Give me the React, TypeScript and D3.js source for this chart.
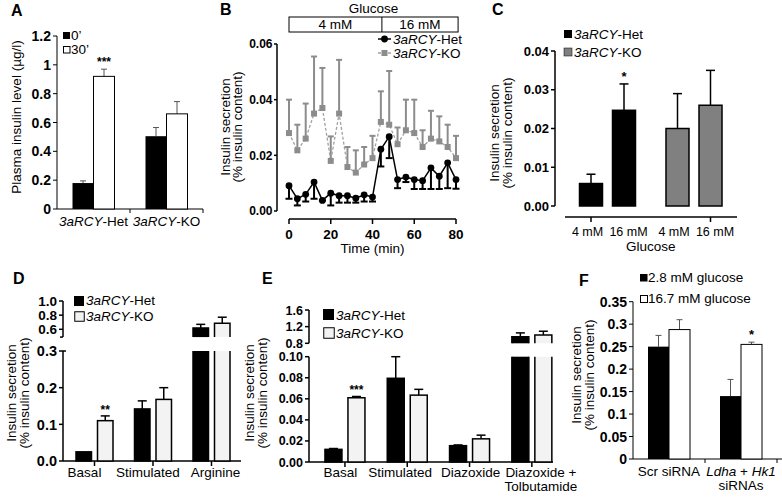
import React from 'react';
import * as d3 from 'd3';

const FONT = '"Liberation Sans", Arial, Helvetica, sans-serif';
const FS = 13.5;

// ---------- Panel A ----------
const aGroups = ['Het', 'KO'];
const aBasal = [0.18, 0.505];
const aBasalErr = [0.015, 0.06];
const aPeak = [0.92, 0.66];
const aPeakErr = [0.05, 0.085];
const aTicks = [0, 0.2, 0.4, 0.6, 0.8, 1, 1.2];
const aTickLabels = ['0', '0.2', '0.4', '0.6', '0.8', '1', '1.2'];

// ---------- Panel B ----------
const bTime = [0, 4, 8, 12, 16, 20, 24, 28, 32, 36, 40, 44, 48, 52, 56, 60, 64, 68, 72, 76, 80];
const bHet = [0.0091, 0.0044, 0.006, 0.0104, 0.0038, 0.0064, 0.0055, 0.0055, 0.0046, 0.0058, 0.005, 0.0222, 0.0267, 0.0113, 0.0122, 0.0113, 0.0109, 0.0155, 0.0125, 0.0173, 0.0113];
const bHetErr = [0.0047, 0.0024, 0.0026, 0.006, 0, 0.0044, 0.0025, 0.0025, 0.0016, 0.0024, 0.0016, 0.0062, 0.0077, 0.0031, 0.0018, 0.0034, 0.003, 0.0076, 0.0046, 0.0091, 0.0033];
const bKO = [0.028, 0.0218, 0.026, 0.035, 0.037, 0.018, 0.035, 0.0158, 0.0138, 0.0167, 0.019, 0.032, 0.031, 0.024, 0.029, 0.028, 0.023, 0.026, 0.025, 0.023, 0.019];
const bKOErr = [0.012, 0.0092, 0.0126, 0.0205, 0.0144, 0.0088, 0.0193, 0.0072, 0.008, 0.0063, 0.008, 0.011, 0.0193, 0.006, 0.011, 0.012, 0.006, 0.01, 0.009, 0.008, 0.008];
const bYTicks = [0, 0.02, 0.04, 0.06];
const bYTickLabels = ['0.00', '0.02', '0.04', '0.06'];
const bXTicks = [0, 20, 40, 60, 80];
const bSwitch = 44.5;
const bEnd = 81;

// ---------- Panel C ----------
const cGenotypes = ['Het', 'KO'];
const cGlucose = ['4 mM', '16 mM'];
const cHet = [0.0058, 0.0247];
const cHetErr = [0.0024, 0.0068];
const cKO = [0.02, 0.026];
const cKOErr = [0.009, 0.009];
const cTicks = [0, 0.01, 0.02, 0.03, 0.04];
const cTickLabels = ['0.00', '0.01', '0.02', '0.03', '0.04'];

// ---------- Panel D ----------
const dCategories = ['Basal', 'Stimulated', 'Arginine'];
const dHet = [0.025, 0.142, 0.62];
const dHetErr = [0, 0.022, 0.05];
const dKO = [0.11, 0.168, 0.686];
const dKOErr = [0.013, 0.032, 0.085];
const dLowTicks = [0, 0.1, 0.2, 0.3];
const dLowLabels = ['0.0', '0.1', '0.2', '0.3'];
const dUpTicks = [0.6, 0.8, 1.0];
const dUpLabels = ['0.6', '0.8', '1.0'];
const dUpMin = 0.49;

// ---------- Panel E ----------
const eCategories = ['Basal', 'Stimulated', 'Diazoxide', 'Diazoxide + Tolbutamide'];
const eHet = [0.012, 0.0795, 0.0155, 0.96];
const eHetErr = [0.0008, 0.0205, 0.0007, 0.09];
const eKO = [0.061, 0.0635, 0.022, 1.0];
const eKOErr = [0.0012, 0.0055, 0.0035, 0.09];
const eLowTicks = [0, 0.02, 0.04, 0.06, 0.08, 0.1];
const eLowLabels = ['0.00', '0.02', '0.04', '0.06', '0.08', '0.10'];
const eUpTicks = [0.8, 1.2, 1.6];
const eUpLabels = ['0.8', '1.2', '1.6'];

// ---------- Panel F ----------
const fCategories = ['Scr', 'Ldha'];
const fLow = [0.25, 0.14];
const fLowErr = [0.025, 0.037];
const fHigh = [0.288, 0.255];
const fHighErr = [0.022, 0.005];
const fTicks = [0, 0.05, 0.1, 0.15, 0.2, 0.25, 0.3, 0.35];
const fTickLabels = ['0', '0.05', '0.1', '0.15', '0.2', '0.25', '0.3', '0.35'];

const KO_FILL = '#f3f3f3';

function Geno({ name }: { name: string }) {
  return (
    <>
      <tspan fontStyle="italic">3aRCY</tspan>
      <tspan>-{name}</tspan>
    </>
  );
}

function YTitle({ x, y, lines, gap = 13 }: { x: number; y: number; lines: string[]; gap?: number }) {
  return (
    <text transform={`translate(${x},${y}) rotate(-90)`} textAnchor="middle" fontSize={FS}>
      {lines.map((l, i) => (
        <tspan key={i} x={0} dy={i === 0 ? 0 : gap}>
          {l}
        </tspan>
      ))}
    </text>
  );
}

function Err({ x, y1, y2, cap = 7, stroke = '#000', sw = 1.5 }: any) {
  return (
    <g stroke={stroke} strokeWidth={sw}>
      <line x1={x} x2={x} y1={y1} y2={y2} />
      <line x1={x - cap / 2} x2={x + cap / 2} y1={y2} y2={y2} />
    </g>
  );
}

function YTicks({ x, scale, ticks, labels, sw = 1.5, len = 4, fs = FS, gap = 3 }: any) {
  return (
    <g>
      {ticks.map((t: number, i: number) => (
        <g key={i}>
          <line x1={x - len} x2={x} y1={scale(t)} y2={scale(t)} stroke="#000" strokeWidth={sw} />
          <text x={x - len - gap} y={scale(t)} dy="0.36em" textAnchor="end" fontSize={fs} fontWeight="bold">
            {labels[i]}
          </text>
        </g>
      ))}
    </g>
  );
}

function PanelA() {
  const y = d3.scaleLinear().domain([0, 1.2]).range([209, 36]);
  const x = d3.scaleBand().domain(aGroups).range([57, 203]);
  const bw = 21;
  const x0 = 57;
  return (
    <g>
      <text x={11} y={16} fontSize={16} fontWeight="bold">A</text>
      <YTitle x={21} y={117} lines={['Plasma insulin level (µg/l)']} />
      <line x1={x0} x2={x0} y1={y(1.2)} y2={y(0)} stroke="#000" />
      <YTicks x={x0} scale={y} ticks={aTicks} labels={aTickLabels} sw={1} fs={14} gap={2} />
      <line x1={x0} x2={203} y1={y(0)} y2={y(0)} stroke="#000" />
      {aGroups.map((g) => (
        <line key={g} x1={(x(g) as number) + x.bandwidth()} x2={(x(g) as number) + x.bandwidth()} y1={y(0)} y2={y(0) + 4} stroke="#000" />
      ))}
      {aGroups.map((g, i) => {
        const c = (x(g) as number) + x.bandwidth() / 2;
        return (
          <g key={g}>
            <Err x={c - bw / 2} y1={y(aBasal[i])} y2={y(aBasal[i] + aBasalErr[i])} cap={6} sw={1} stroke="#555" />
            <Err x={c + bw / 2} y1={y(aPeak[i])} y2={y(aPeak[i] + aPeakErr[i])} cap={6} sw={1} stroke="#555" />
            <rect x={c - bw} y={y(aBasal[i])} width={bw} height={y(0) - y(aBasal[i])} fill="#000" />
            <rect x={c} y={y(aPeak[i])} width={bw} height={y(0) - y(aPeak[i])} fill="#fff" stroke="#000" strokeWidth={1} />
            <text x={(x(g) as number) + x.bandwidth() / 2} y={226} textAnchor="middle" fontSize={FS}>
              <Geno name={g} />
            </text>
          </g>
        );
      })}
      <text x={(x('Het') as number) + x.bandwidth() / 2 + bw / 2} y={y(aPeak[0] + aPeakErr[0]) - 3} textAnchor="middle" fontSize={12} fontWeight="bold">***</text>
      <rect x={63} y={32} width={7} height={7} fill="#000" />
      <text x={71} y={40} fontSize={FS}>0’</text>
      <rect x={63.5} y={46.5} width={6.5} height={6.5} fill="#fff" stroke="#000" />
      <text x={71} y={54} fontSize={FS}>30’</text>
    </g>
  );
}

function PanelB() {
  const x = d3.scaleLinear().domain([0, 80]).range([289, 456]);
  const y = d3.scaleLinear().domain([0, 0.06]).range([211, 44]);
  const line = d3.line<number>().x((_, i) => x(bTime[i])).y((d) => y(d));
  const KO = '#8c8c8c';
  return (
    <g>
      <text x={220} y={15} fontSize={16} fontWeight="bold">B</text>
      <text x={(x(0) + x(bEnd)) / 2} y={13} textAnchor="middle" fontSize={FS}>Glucose</text>
      <rect x={x(0)} y={17} width={x(bEnd) - x(0)} height={15} fill="#fff" stroke="#000" />
      <line x1={x(bSwitch)} x2={x(bSwitch)} y1={17} y2={32} stroke="#000" />
      <text x={(x(0) + x(bSwitch)) / 2} y={29} textAnchor="middle" fontSize={FS}>4 mM</text>
      <text x={(x(bSwitch) + x(bEnd)) / 2} y={29} textAnchor="middle" fontSize={FS}>16 mM</text>
      <YTitle x={229.5} y={127} lines={['Insulin secretion', '(% insulin content)']} gap={12.5} />
      <line x1={277} x2={277} y1={y(0.06)} y2={y(0)} stroke="#000" strokeWidth={1.5} />
      <YTicks x={277} scale={y} ticks={bYTicks} labels={bYTickLabels} fs={12} len={3} gap={1.5} />
      <line x1={x(0)} x2={x(80)} y1={219} y2={219} stroke="#000" strokeWidth={1.5} />
      {bXTicks.map((t) => (
        <g key={t}>
          <line x1={x(t)} x2={x(t)} y1={219} y2={224} stroke="#000" strokeWidth={1.5} />
          <text x={x(t)} y={239} textAnchor="middle" fontSize={FS} fontWeight="bold">{t}</text>
        </g>
      ))}
      <text x={(x(0) + x(80)) / 2} y={253} textAnchor="middle" fontSize={FS}>Time (min)</text>
      {bKO.map((v, i) => (
        <Err key={'ke' + i} x={x(bTime[i])} y1={y(v)} y2={y(v + bKOErr[i])} cap={6} stroke={KO} sw={2} />
      ))}
      <path d={line(bKO) as string} fill="none" stroke="#a0a0a0" strokeWidth={1.3} strokeDasharray="3,2" />
      {bKO.map((v, i) => (
        <rect key={'km' + i} x={x(bTime[i]) - 3} y={y(v) - 3} width={6} height={6} fill={KO} />
      ))}
      {bHet.map((v, i) => (
        <Err key={'he' + i} x={x(bTime[i])} y1={y(v)} y2={y(v - bHetErr[i])} cap={7} stroke="#000" sw={2} />
      ))}
      <path d={line(bHet) as string} fill="none" stroke="#000" strokeWidth={1.5} />
      {bHet.map((v, i) => (
        <circle key={'hm' + i} cx={x(bTime[i])} cy={y(v)} r={3.4} fill="#000" />
      ))}
      <line x1={378} x2={391} y1={39} y2={39} stroke="#000" strokeWidth={1.5} />
      <circle cx={384.5} cy={39} r={3.4} fill="#000" />
      <text x={393} y={43.5} fontSize={FS}><Geno name="Het" /></text>
      <line x1={378} x2={391} y1={53} y2={53} stroke="#a0a0a0" strokeWidth={1.3} strokeDasharray="3,2" />
      <rect x={381.5} y={50} width={6} height={6} fill={KO} />
      <text x={393} y={57.5} fontSize={FS}><Geno name="KO" /></text>
    </g>
  );
}

function PanelC() {
  const y = d3.scaleLinear().domain([0, 0.04]).range([206, 51]);
  const gx = d3.scalePoint().domain(cGenotypes).range([607.5, 694]);
  const ix = d3.scalePoint().domain(cGlucose).range([-16.5, 16.5]);
  const labelDx = [-3.5, 4.5];
  const bw = 23;
  const series = [
    { g: 'Het', v: cHet, e: cHetErr, fill: '#000' },
    { g: 'KO', v: cKO, e: cKOErr, fill: '#808080' },
  ];
  const first = (gx('Het') as number) + (ix('4 mM') as number);
  const last = (gx('KO') as number) + (ix('16 mM') as number);
  return (
    <g>
      <text x={492} y={15} fontSize={16} fontWeight="bold">C</text>
      <YTitle x={499} y={133} lines={['Insulin secretion', '(% insulin content)']} gap={12.5} />
      <line x1={555} x2={555} y1={y(0.04)} y2={y(0)} stroke="#000" strokeWidth={1.5} />
      <YTicks x={555} scale={y} ticks={cTicks} labels={cTickLabels} fs={13} len={4} gap={2} />
      <line x1={565} x2={737} y1={217} y2={217} stroke="#000" strokeWidth={1.5} />
      {[first, last].map((t, i) => (
        <line key={i} x1={t} x2={t} y1={217} y2={222} stroke="#000" strokeWidth={1.5} />
      ))}
      {series.map((s) =>
        cGlucose.map((gl, j) => {
          const c = (gx(s.g) as number) + (ix(gl) as number);
          return (
            <g key={s.g + gl}>
              <Err x={c} y1={y(s.v[j])} y2={y(s.v[j] + s.e[j])} cap={9} />
              <rect x={c - bw / 2} y={y(s.v[j])} width={bw} height={y(0) - y(s.v[j])} fill={s.fill} stroke="#000" strokeWidth={1.5} />
              <text x={c + labelDx[j]} y={236} textAnchor="middle" fontSize={12.5}>{gl}</text>
            </g>
          );
        })
      )}
      <text x={(gx('Het') as number) + (ix('16 mM') as number)} y={y(cHet[1] + cHetErr[1]) - 3} textAnchor="middle" fontSize={13} fontWeight="bold">*</text>
      <text x={(first + last) / 2} y={251} textAnchor="middle" fontSize={FS}>Glucose</text>
      <rect x={564} y={30} width={8} height={8} fill="#000" />
      <text x={574} y={38.5} fontSize={FS}><Geno name="Het" /></text>
      <rect x={564} y={48} width={8} height={8} fill="#808080" stroke="#000" strokeWidth={0.5} />
      <text x={574} y={56.5} fontSize={FS}><Geno name="KO" /></text>
    </g>
  );
}

function BrokenBar({ x, w, v, low, up, lowMax, upMin, fill }: any) {
  const base = low(0);
  const sw = 1.5;
  if (v <= lowMax) {
    return <rect x={x} y={low(v)} width={w} height={base - low(v)} fill={fill} stroke="#000" strokeWidth={sw} />;
  }
  const lt = low(lowMax);
  const ub = up(upMin);
  const ut = up(v);
  return (
    <g>
      <rect x={x} y={lt} width={w} height={base - lt} fill={fill} />
      <path d={`M${x},${lt}V${base}H${x + w}V${lt}`} fill="none" stroke="#000" strokeWidth={sw} />
      <rect x={x} y={ut} width={w} height={ub - ut} fill={fill} />
      <path d={`M${x},${ub}V${ut}H${x + w}V${ub}`} fill="none" stroke="#000" strokeWidth={sw} />
    </g>
  );
}

function PanelD() {
  const low = d3.scaleLinear().domain([0, 0.3]).range([461, 351]);
  const up = d3.scaleLinear().domain([0.6, 1.0]).range([329.3, 301]);
  const x = d3.scaleBand().domain(dCategories).range([65.25, 240.75]);
  const labelDx = [-10, -5, 4];
  const bw = 15.5;
  const gap = 3;
  const ax = 63;
  const valY = (v: number) => (v > 0.3 ? up(v) : low(v));
  return (
    <g>
      <text x={13} y={284} fontSize={16} fontWeight="bold">D</text>
      <YTitle x={16} y={393} lines={['Insulin secretion', '(% insulin content)']} gap={12.5} />
      <line x1={ax} x2={ax} y1={up(1.0)} y2={up(dUpMin)} stroke="#000" strokeWidth={1.5} />
      <line x1={ax - 3} x2={ax} y1={up(dUpMin)} y2={up(dUpMin)} stroke="#000" strokeWidth={1.5} />
      <YTicks x={ax} scale={up} ticks={dUpTicks} labels={dUpLabels} fs={13.5} gap={2} />
      <line x1={ax} x2={ax} y1={low(0.3)} y2={low(0)} stroke="#000" strokeWidth={1.5} />
      <YTicks x={ax} scale={low} ticks={dLowTicks} labels={dLowLabels} fs={14.5} gap={2} />
      <line x1={ax} x2={ax + 3} y1={low(0.3)} y2={low(0.3)} stroke="#000" strokeWidth={1.5} />
      <line x1={ax} x2={241} y1={low(0)} y2={low(0)} stroke="#000" strokeWidth={1.5} />
      {dCategories.map((c, i) => {
        const cx = (x(c) as number) + x.bandwidth() / 2;
        const hx = cx - gap - bw;
        const kx = cx + gap;
        return (
          <g key={c}>
            <line x1={cx} x2={cx} y1={low(0)} y2={low(0) + 5} stroke="#000" strokeWidth={1.5} />
            {dHetErr[i] > 0 && <Err x={hx + bw / 2} y1={valY(dHet[i])} y2={valY(dHet[i] + dHetErr[i])} cap={9} />}
            <Err x={kx + bw / 2} y1={valY(dKO[i])} y2={valY(dKO[i] + dKOErr[i])} cap={9} />
            <BrokenBar x={hx} w={bw} v={dHet[i]} low={low} up={up} lowMax={0.3} upMin={dUpMin} fill="#000" />
            <BrokenBar x={kx} w={bw} v={dKO[i]} low={low} up={up} lowMax={0.3} upMin={dUpMin} fill={KO_FILL} />
            <text x={cx + labelDx[i]} y={477} textAnchor="middle" fontSize={FS}>{c}</text>
          </g>
        );
      })}
      <text x={(x('Basal') as number) + x.bandwidth() / 2 + gap + bw / 2} y={low(dKO[0] + dKOErr[0]) - 2} textAnchor="middle" fontSize={12} fontWeight="bold">**</text>
      <rect x={74} y={296} width={10} height={10} fill="#000" />
      <text x={86} y={305} fontSize={FS}><Geno name="Het" /></text>
      <rect x={74.75} y={311.75} width={9.5} height={9.5} fill={KO_FILL} stroke="#000" strokeWidth={1} />
      <text x={86} y={320.5} fontSize={FS}><Geno name="KO" /></text>
    </g>
  );
}

function PanelE() {
  const low = d3.scaleLinear().domain([0, 0.1]).range([462, 356.7]);
  const up = d3.scaleLinear().domain([0.8, 1.6]).range([343.3, 310]);
  const x = d3.scaleBand().domain(eCategories).range([313.8, 563]);
  const labelDx = [-4.5, -7, 1, 9];
  const bw = 17;
  const gap = 3;
  const ax = 309;
  const valY = (v: number) => (v > 0.1 ? up(v) : low(v));
  const lx = (i: number) => (x(eCategories[i]) as number) + x.bandwidth() / 2 + labelDx[i];
  return (
    <g>
      <text x={262} y={284} fontSize={16} fontWeight="bold">E</text>
      <YTitle x={253.5} y={393} lines={['Insulin secretion', '(% insulin content)']} gap={13} />
      <line x1={ax} x2={ax} y1={up(1.6)} y2={up(0.8)} stroke="#000" strokeWidth={1.5} />
      <YTicks x={ax} scale={up} ticks={eUpTicks} labels={eUpLabels} fs={12.5} gap={2} />
      <line x1={ax} x2={ax} y1={low(0.1)} y2={low(0)} stroke="#000" strokeWidth={1.5} />
      <YTicks x={ax} scale={low} ticks={eLowTicks} labels={eLowLabels} fs={12.5} gap={2} />
      <line x1={ax} x2={553} y1={low(0)} y2={low(0)} stroke="#000" strokeWidth={1.5} />
      {eCategories.map((c, i) => {
        const cx = (x(c) as number) + x.bandwidth() / 2;
        const hx = cx - gap - bw;
        const kx = cx + gap;
        return (
          <g key={c}>
            <line x1={cx} x2={cx} y1={low(0)} y2={low(0) + 5} stroke="#000" strokeWidth={1.5} />
            <Err x={hx + bw / 2} y1={valY(eHet[i])} y2={valY(eHet[i] + eHetErr[i])} cap={9} />
            <Err x={kx + bw / 2} y1={valY(eKO[i])} y2={valY(eKO[i] + eKOErr[i])} cap={9} />
            <BrokenBar x={hx} w={bw} v={eHet[i]} low={low} up={up} lowMax={0.1} upMin={0.8} fill="#000" />
            <BrokenBar x={kx} w={bw} v={eKO[i]} low={low} up={up} lowMax={0.1} upMin={0.8} fill={KO_FILL} />
          </g>
        );
      })}
      {eCategories.slice(0, 3).map((c, i) => (
        <text key={c} x={lx(i)} y={477} textAnchor="middle" fontSize={FS}>{c}</text>
      ))}
      <text x={lx(3)} y={477} textAnchor="middle" fontSize={FS}>
        <tspan x={lx(3)}>Diazoxide +</tspan>
        <tspan x={lx(3)} dy={14}>Tolbutamide</tspan>
      </text>
      <text x={(x('Basal') as number) + x.bandwidth() / 2 + gap + bw / 2} y={low(eKO[0] + eKOErr[0]) - 3} textAnchor="middle" fontSize={12} fontWeight="bold">***</text>
      <rect x={323} y={309} width={11} height={11} fill="#000" />
      <text x={336} y={319.5} fontSize={FS}><Geno name="Het" /></text>
      <rect x={323.75} y={327.75} width={10.5} height={10.5} fill={KO_FILL} stroke="#000" strokeWidth={1} />
      <text x={336} y={338} fontSize={FS}><Geno name="KO" /></text>
    </g>
  );
}

function PanelF() {
  const y = d3.scaleLinear().domain([0, 0.35]).range([459, 301.7]);
  const x = d3.scaleBand().domain(fCategories).range([633, 777]);
  const bw = 21;
  const ax = 633;
  return (
    <g>
      <text x={579} y={286} fontSize={16} fontWeight="bold">F</text>
      <YTitle x={581} y={375} lines={['Insulin secretion', '(% insulin content)']} gap={12.5} />
      <line x1={ax} x2={ax} y1={y(0.35)} y2={y(0)} stroke="#000" />
      <YTicks x={ax} scale={y} ticks={fTicks} labels={fTickLabels} sw={1} fs={14} gap={2} />
      <line x1={ax} x2={782} y1={y(0)} y2={y(0)} stroke="#000" />
      {fCategories.map((c) => (
        <line key={c} x1={(x(c) as number) + x.bandwidth()} x2={(x(c) as number) + x.bandwidth()} y1={y(0)} y2={y(0) + 4} stroke="#000" />
      ))}
      {fCategories.map((c, i) => {
        const cx = (x(c) as number) + x.bandwidth() / 2;
        return (
          <g key={c}>
            <Err x={cx - bw / 2} y1={y(fLow[i])} y2={y(fLow[i] + fLowErr[i])} cap={6} sw={1} stroke="#555" />
            <Err x={cx + bw / 2} y1={y(fHigh[i])} y2={y(fHigh[i] + fHighErr[i])} cap={6} sw={1} stroke="#555" />
            <rect x={cx - bw} y={y(fLow[i])} width={bw} height={y(0) - y(fLow[i])} fill="#000" />
            <rect x={cx} y={y(fHigh[i])} width={bw} height={y(0) - y(fHigh[i])} fill="#fff" stroke="#000" strokeWidth={1} />
          </g>
        );
      })}
      <text x={(x('Scr') as number) + x.bandwidth() / 2} y={476} textAnchor="middle" fontSize={FS}>Scr siRNA</text>
      <text x={(x('Ldha') as number) + x.bandwidth() / 2} y={476} textAnchor="middle" fontSize={FS}>
        <tspan fontStyle="italic">Ldha</tspan> + <tspan fontStyle="italic">Hk1</tspan>
      </text>
      <text x={(x('Ldha') as number) + x.bandwidth() / 2} y={490} textAnchor="middle" fontSize={FS}>siRNAs</text>
      <text x={(x('Ldha') as number) + x.bandwidth() / 2 + bw / 2} y={y(fHigh[1] + fHighErr[1]) - 3} textAnchor="middle" fontSize={13} fontWeight="bold">*</text>
      <rect x={640} y={274} width={7.5} height={7.5} fill="#000" />
      <text x={648} y={282} fontSize={FS}>2.8 mM glucose</text>
      <rect x={640.5} y={295.5} width={7} height={7} fill="#fff" stroke="#000" />
      <text x={648} y={303} fontSize={FS}>16.7 mM glucose</text>
    </g>
  );
}

export default function App() {
  return (
    <svg
      width={782}
      height={501}
      viewBox="0 0 782 501"
      style={{ position: 'absolute', left: 0, top: 0, background: '#fff' }}
      fontFamily={FONT}
    >
      <rect width={782} height={501} fill="#fff" />
      <PanelA />
      <PanelB />
      <PanelC />
      <PanelD />
      <PanelE />
      <PanelF />
    </svg>
  );
}
